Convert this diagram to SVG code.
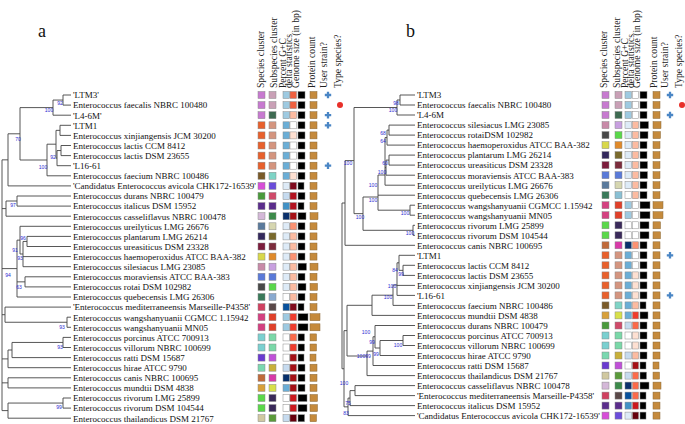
<svg xmlns="http://www.w3.org/2000/svg" width="685" height="424" viewBox="0 0 685 424">
<style>
.nm{font-family:"Liberation Serif","Times New Roman",serif;font-size:9px;fill:#111}
.hd{font-family:"Liberation Serif","Times New Roman",serif;font-size:9.6px;fill:#222}
.pl{font-family:"Liberation Serif","Times New Roman",serif;font-size:18px;fill:#111}
.bs{font-family:"Liberation Sans",Arial,sans-serif;font-size:5px;fill:#2b2bd0;text-anchor:middle}
.sq{stroke:#8a8a8a;stroke-width:0.5}
.gn{fill:#000;stroke:#8a8a8a;stroke-width:0.5}
.pc{fill:#c58a3c;stroke:#8a6a3a;stroke-width:0.5}
.br{fill:none;stroke:#444;stroke-width:0.9}
</style>
<defs>
<path id="cross" d="M-3.2,0H3.2M0,-3.2V3.2" stroke="#4a86c5" stroke-width="2.3" fill="none"/>
</defs>
<rect width="685" height="424" fill="#fff"/>
<text class="pl" x="38" y="37">a</text>
<text class="pl" x="406" y="37">b</text>
<g id="header-a">
<text class="hd" transform="translate(264,88) rotate(-90)">Species cluster</text>
<text class="hd" transform="translate(277,88) rotate(-90)">Subspecies cluster</text>
<text class="hd" transform="translate(286,88) rotate(-90)">Percent G+C</text>
<text class="hd" transform="translate(292,88) rotate(-90)">delta statistics</text>
<text class="hd" transform="translate(299,88) rotate(-90)">Genome size (in bp)</text>
<text class="hd" transform="translate(315,88) rotate(-90)">Protein count</text>
<text class="hd" transform="translate(327,88) rotate(-90)">User strain?</text>
<text class="hd" transform="translate(341,88) rotate(-90)">Type species?</text>
</g>
<g id="header-b">
<text class="hd" transform="translate(607,88) rotate(-90)">Species cluster</text>
<text class="hd" transform="translate(620,88) rotate(-90)">Subspecies cluster</text>
<text class="hd" transform="translate(628,88) rotate(-90)">Percent G+C</text>
<text class="hd" transform="translate(634,88) rotate(-90)">delta statistics</text>
<text class="hd" transform="translate(640,88) rotate(-90)">Genome size (in bp)</text>
<text class="hd" transform="translate(657,88) rotate(-90)">Protein count</text>
<text class="hd" transform="translate(668,88) rotate(-90)">User strain?</text>
<text class="hd" transform="translate(682,88) rotate(-90)">Type species?</text>
</g>
<g id="connectors">
<path class="br" d="M63,95H71M63,105.1H71M53,115.2H71M60,125.3H71M60,135.4H71M61,145.5H71M61,155.6H71M57,165.7H71M47,175.8H71M8,185.9H71M17,196H71M17,206.1H71M6,216.2H71M20,226.3H71M27,236.4H71M27,246.5H71M23,256.6H71M23,266.7H71M25,276.8H71M25,286.9H71M17,297H71M5,307.1H71M67,317.2H71M67,327.3H71M63,337.4H71M63,347.5H71M12,357.6H71M8,367.7H71M8,377.8H71M8,387.9H71M63,398H71M63,408.1H71M8,418.2H71"/>
<path class="br" d="M53,100.05H63M20,107.6H53M56,130.35H60M57,150.55H61M56,158.1H57M47,144.2H56M20,160H47M8,133.8H20M2,159.85H8M6,201H17M2,208.6H6M23,241.45H27M20,254H23M17,240.15H20M17,281.85H25M2,268.6H17M5,322.25H67M2,314.7H5M12,342.45H63M8,350H12M2,358.9H8M2,382.85H8M8,403.05H63M2,410.6H8"/>
<path class="br" d="M63,95V105.1M53,100.05V115.2M60,125.3V135.4M61,145.5V155.6M57,150.55V165.7M56,130.35V158.1M47,144.2V175.8M20,107.6V160M8,133.8V185.9M17,196V206.1M6,201V216.2M27,236.4V246.5M23,241.45V266.7M20,226.3V254M25,276.8V286.9M17,240.15V297M5,307.1V322.25M67,317.2V327.3M63,337.4V347.5M12,342.45V357.6M8,350V367.7M8,377.8V387.9M63,398V408.1M8,403.05V418.2M2,159.85V410.6"/>
<path class="br" d="M400,95H415M400,105H415M397,115H415M389,125.1H415M389,135.1H415M387,145.1H415M389,155.1H415M389,165.1H415M386,175.2H415M385,185.2H415M378,195.2H415M410,205.2H415M410,215.2H415M413,225.3H415M413,235.3H415M345,245.3H415M399,255.3H415M403,265.3H415M403,275.4H415M397,285.4H415M397,295.4H415M393,305.4H415M372,315.4H415M375,325.5H415M403,335.5H415M403,345.5H415M380,355.5H415M373,365.5H415M367,375.6H415M355,385.6H415M355,395.6H415M350,405.6H415M348,415.6H415"/>
<path class="br" d="M397,100H400M354,107.5H397M387,130.1H389M385,137.6H387M386,160.1H389M385,167.65H386M378,175H385M363,197H378M378,210.2H410M363,230.3H413M354,213.65H363M345,160.6H354M342,203H345M399,270.35H403M397,262.8H399M393,285H397M372,295.2H393M347,305.3H372M380,340.5H403M375,348H380M373,336.75H375M367,351.1H373M347,356H367M350,390.6H355M348,398.1H350M344,406.85H348M344,330.65H347M342,368.75H344"/>
<path class="br" d="M400,95V105M397,100V115M389,125.1V135.1M387,130.1V145.1M389,155.1V165.1M386,160.1V175.2M385,137.6V185.2M378,175V210.2M410,205.2V215.2M413,225.3V235.3M363,197V230.3M354,107.5V213.65M345,160.6V245.3M403,265.3V275.4M399,255.3V270.35M397,262.8V295.4M393,285V305.4M372,295.2V315.4M403,335.5V345.5M380,340.5V355.5M375,325.5V348M373,336.75V365.5M367,351.1V375.6M347,305.3V356M355,385.6V395.6M350,390.6V405.6M348,398.1V415.6M344,330.65V406.85M342,203V368.75"/>
</g>
<g id="support-a">
<text class="bs" x="60" y="104.5">92</text>
<text class="bs" x="49" y="111.8">100</text>
<text class="bs" x="18" y="140.8">70</text>
<text class="bs" x="53" y="158.5">92</text>
<text class="bs" x="43" y="169">100</text>
<text class="bs" x="13" y="206.8">97</text>
<text class="bs" x="23" y="240">96</text>
<text class="bs" x="15" y="251.8">91</text>
<text class="bs" x="20" y="260">93</text>
<text class="bs" x="8" y="276.8">94</text>
<text class="bs" x="19" y="288.5">63</text>
<text class="bs" x="62" y="328.5">93</text>
<text class="bs" x="60" y="348.5">93</text>
<text class="bs" x="59" y="409">99</text>
</g>
<g id="support-b">
<text class="bs" x="396" y="104.5">98</text>
<text class="bs" x="393" y="111.8">100</text>
<text class="bs" x="348" y="165">100</text>
<text class="bs" x="383" y="134.5">68</text>
<text class="bs" x="383" y="142.8">64</text>
<text class="bs" x="385" y="165">60</text>
<text class="bs" x="382" y="173.5">100</text>
<text class="bs" x="373" y="186.8">100</text>
<text class="bs" x="373" y="201.8">100</text>
<text class="bs" x="405" y="215">100</text>
<text class="bs" x="360" y="218.5">100</text>
<text class="bs" x="410" y="235">100</text>
<text class="bs" x="395" y="271.8">84</text>
<text class="bs" x="401" y="276">99</text>
<text class="bs" x="392" y="287.8">100</text>
<text class="bs" x="388" y="299">100</text>
<text class="bs" x="366" y="334">100</text>
<text class="bs" x="372" y="343.5">99</text>
<text class="bs" x="398" y="346.8">100</text>
<text class="bs" x="376" y="356">99</text>
<text class="bs" x="361" y="357.8">100</text>
<text class="bs" x="368" y="357.8">99</text>
<text class="bs" x="344" y="385">100</text>
<text class="bs" x="348" y="405">75</text>
<text class="bs" x="346" y="415">83</text>
</g>
<g id="a-r1"><text class="nm" x="73" y="98.3">'LTM3'</text><rect class="sq" x="258" y="91.5" width="7" height="7" fill="#c77ad0"/><rect class="sq" x="269" y="91.5" width="7" height="7" fill="#c9a0b6"/><rect class="sq" x="283" y="91.5" width="6.5" height="7" fill="#9ecae1"/><rect class="sq" x="290" y="91.5" width="6.5" height="7" fill="#f0603f"/><rect class="gn" x="298" y="91.5" width="7" height="7"/><rect class="pc" x="310" y="91.5" width="7" height="7"/><use href="#cross" x="328" y="95"/></g>
<g id="a-r2"><text class="nm" x="73" y="108.4">Enterococcus faecalis NBRC 100480</text><rect class="sq" x="258" y="101.6" width="7" height="7" fill="#c77ad0"/><rect class="sq" x="269" y="101.6" width="7" height="7" fill="#c9a0b6"/><rect class="sq" x="283" y="101.6" width="6.5" height="7" fill="#9ecae1"/><rect class="sq" x="290" y="101.6" width="6.5" height="7" fill="#f0603f"/><rect class="gn" x="298" y="101.6" width="7" height="7"/><rect class="pc" x="310" y="101.6" width="7" height="7"/><circle cx="340" cy="105.1" r="3" fill="#e8302a"/></g>
<g id="a-r3"><text class="nm" x="73" y="118.5">'L4-6M'</text><rect class="sq" x="258" y="111.7" width="7" height="7" fill="#c77ad0"/><rect class="sq" x="269" y="111.7" width="7" height="7" fill="#3e6b52"/><rect class="sq" x="283" y="111.7" width="6.5" height="7" fill="#9ecae1"/><rect class="sq" x="290" y="111.7" width="6.5" height="7" fill="#fcbba1"/><rect class="gn" x="298" y="111.7" width="7" height="7"/><rect class="pc" x="310" y="111.7" width="7" height="7"/><use href="#cross" x="328" y="115.2"/></g>
<g id="a-r4"><text class="nm" x="73" y="128.6">'LTM1</text><rect class="sq" x="258" y="121.8" width="7" height="7" fill="#e8602c"/><rect class="sq" x="269" y="121.8" width="7" height="7" fill="#d4957f"/><rect class="sq" x="283" y="121.8" width="6.5" height="7" fill="#6baed6"/><rect class="sq" x="290" y="121.8" width="6.5" height="7" fill="#ffffff"/><rect class="gn" x="298" y="121.8" width="7" height="7"/><rect class="pc" x="310" y="121.8" width="7" height="7"/><use href="#cross" x="328" y="125.3"/></g>
<g id="a-r5"><text class="nm" x="73" y="138.7">Enterococcus xinjiangensis JCM 30200</text><rect class="sq" x="258" y="131.9" width="7" height="7" fill="#e8602c"/><rect class="sq" x="269" y="131.9" width="7" height="7" fill="#d4957f"/><rect class="sq" x="283" y="131.9" width="6.5" height="7" fill="#6baed6"/><rect class="sq" x="290" y="131.9" width="6.5" height="7" fill="#fee0d2"/><rect class="gn" x="298" y="131.9" width="7" height="7"/><rect class="pc" x="310" y="131.9" width="7" height="7"/></g>
<g id="a-r6"><text class="nm" x="73" y="148.8">Enterococcus lactis CCM 8412</text><rect class="sq" x="258" y="142" width="7" height="7" fill="#e8602c"/><rect class="sq" x="269" y="142" width="7" height="7" fill="#d4957f"/><rect class="sq" x="283" y="142" width="6.5" height="7" fill="#6baed6"/><rect class="sq" x="290" y="142" width="6.5" height="7" fill="#ffffff"/><rect class="gn" x="298" y="142" width="7" height="7"/><rect class="pc" x="310" y="142" width="7" height="7"/></g>
<g id="a-r7"><text class="nm" x="73" y="158.9">Enterococcus lactis DSM 23655</text><rect class="sq" x="258" y="152.1" width="7" height="7" fill="#e8602c"/><rect class="sq" x="269" y="152.1" width="7" height="7" fill="#d4957f"/><rect class="sq" x="283" y="152.1" width="6.5" height="7" fill="#6baed6"/><rect class="sq" x="290" y="152.1" width="6.5" height="7" fill="#ffffff"/><rect class="gn" x="298" y="152.1" width="7" height="7"/><rect class="pc" x="310" y="152.1" width="7" height="7"/></g>
<g id="a-r8"><text class="nm" x="73" y="169">'L16-61</text><rect class="sq" x="258" y="162.2" width="7" height="7" fill="#e8602c"/><rect class="sq" x="269" y="162.2" width="7" height="7" fill="#d4957f"/><rect class="sq" x="283" y="162.2" width="6.5" height="7" fill="#6baed6"/><rect class="sq" x="290" y="162.2" width="6.5" height="7" fill="#ffffff"/><rect class="gn" x="298" y="162.2" width="7" height="7"/><rect class="pc" x="310" y="162.2" width="7" height="7"/><use href="#cross" x="328" y="165.7"/></g>
<g id="a-r9"><text class="nm" x="73" y="179.1">Enterococcus faecium NBRC 100486</text><rect class="sq" x="258" y="172.3" width="7" height="7" fill="#7a5a28"/><rect class="sq" x="269" y="172.3" width="7" height="7" fill="#7fd4c6"/><rect class="sq" x="283" y="172.3" width="6.5" height="7" fill="#6baed6"/><rect class="sq" x="290" y="172.3" width="6.5" height="7" fill="#fee0d2"/><rect class="gn" x="298" y="172.3" width="7" height="7"/><rect class="pc" x="310" y="172.3" width="7" height="7"/></g>
<g id="a-r10"><text class="nm" x="73" y="189.2">'Candidatus Enterococcus avicola CHK172-16539'</text><rect class="sq" x="258" y="182.4" width="7" height="7" fill="#d74ed8"/><rect class="sq" x="269" y="182.4" width="7" height="7" fill="#6b4ddb"/><rect class="sq" x="283" y="182.4" width="6.5" height="7" fill="#deebf7"/><rect class="sq" x="290" y="182.4" width="6.5" height="7" fill="#7f0a1e"/><rect class="gn" x="298" y="182.4" width="6" height="7"/><rect class="pc" x="310" y="182.4" width="7" height="7"/></g>
<g id="a-r11"><text class="nm" x="73" y="199.3">Enterococcus durans NBRC 100479</text><rect class="sq" x="258" y="192.5" width="7" height="7" fill="#4a9a3c"/><rect class="sq" x="269" y="192.5" width="7" height="7" fill="#d04a6a"/><rect class="sq" x="283" y="192.5" width="6.5" height="7" fill="#c6dbef"/><rect class="sq" x="290" y="192.5" width="6.5" height="7" fill="#b3121f"/><rect class="gn" x="298" y="192.5" width="7" height="7"/><rect class="pc" x="310" y="192.5" width="7" height="7"/></g>
<g id="a-r12"><text class="nm" x="73" y="209.4">Enterococcus italicus DSM 15952</text><rect class="sq" x="258" y="202.6" width="7" height="7" fill="#5b2d8c"/><rect class="sq" x="269" y="202.6" width="7" height="7" fill="#5b2d8c"/><rect class="sq" x="283" y="202.6" width="6.5" height="7" fill="#4292c6"/><rect class="sq" x="290" y="202.6" width="6.5" height="7" fill="#b3121f"/><rect class="gn" x="298" y="202.6" width="6" height="7"/><rect class="pc" x="310" y="202.6" width="7" height="7"/></g>
<g id="a-r13"><text class="nm" x="73" y="219.5">Enterococcus casseliflavus NBRC 100478</text><rect class="sq" x="258" y="212.7" width="7" height="7" fill="#d4b8d8"/><rect class="sq" x="269" y="212.7" width="7" height="7" fill="#3c8a4a"/><rect class="sq" x="283" y="212.7" width="6.5" height="7" fill="#0b306b"/><rect class="sq" x="290" y="212.7" width="6.5" height="7" fill="#a50f15"/><rect class="gn" x="298" y="212.7" width="8" height="7"/><rect class="pc" x="310" y="212.7" width="8" height="7"/></g>
<g id="a-r14"><text class="nm" x="73" y="229.6">Enterococcus ureilyticus LMG 26676</text><rect class="sq" x="258" y="222.8" width="7" height="7" fill="#5a7a9c"/><rect class="sq" x="269" y="222.8" width="7" height="7" fill="#d6d6b0"/><rect class="sq" x="283" y="222.8" width="6.5" height="7" fill="#deebf7"/><rect class="sq" x="290" y="222.8" width="6.5" height="7" fill="#fc9272"/><rect class="gn" x="298" y="222.8" width="7" height="7"/><rect class="pc" x="310" y="222.8" width="7" height="7"/></g>
<g id="a-r15"><text class="nm" x="73" y="239.7">Enterococcus plantarum LMG 26214</text><rect class="sq" x="258" y="232.9" width="7" height="7" fill="#33285c"/><rect class="sq" x="269" y="232.9" width="7" height="7" fill="#7a6a2c"/><rect class="sq" x="283" y="232.9" width="6.5" height="7" fill="#deebf7"/><rect class="sq" x="290" y="232.9" width="6.5" height="7" fill="#fcbba1"/><rect class="gn" x="298" y="232.9" width="7" height="7"/><rect class="pc" x="310" y="232.9" width="7" height="7"/></g>
<g id="a-r16"><text class="nm" x="73" y="249.8">Enterococcus ureasiticus DSM 23328</text><rect class="sq" x="258" y="243" width="7" height="7" fill="#7c1c3c"/><rect class="sq" x="269" y="243" width="7" height="7" fill="#7c2c3c"/><rect class="sq" x="283" y="243" width="6.5" height="7" fill="#deebf7"/><rect class="sq" x="290" y="243" width="6.5" height="7" fill="#fcbba1"/><rect class="gn" x="298" y="243" width="7" height="7"/><rect class="pc" x="310" y="243" width="7" height="7"/></g>
<g id="a-r17"><text class="nm" x="73" y="259.9">Enterococcus haemoperoxidus ATCC BAA-382</text><rect class="sq" x="258" y="253.1" width="7" height="7" fill="#d8d84a"/><rect class="sq" x="269" y="253.1" width="7" height="7" fill="#e08a2a"/><rect class="sq" x="283" y="253.1" width="6.5" height="7" fill="#deebf7"/><rect class="sq" x="290" y="253.1" width="6.5" height="7" fill="#fc9272"/><rect class="gn" x="298" y="253.1" width="7" height="7"/><rect class="pc" x="310" y="253.1" width="7" height="7"/></g>
<g id="a-r18"><text class="nm" x="73" y="270">Enterococcus silesiacus LMG 23085</text><rect class="sq" x="258" y="263.2" width="7" height="7" fill="#c88aa8"/><rect class="sq" x="269" y="263.2" width="7" height="7" fill="#c8a0e0"/><rect class="sq" x="283" y="263.2" width="6.5" height="7" fill="#deebf7"/><rect class="sq" x="290" y="263.2" width="6.5" height="7" fill="#fcbba1"/><rect class="gn" x="298" y="263.2" width="8.5" height="7"/><rect class="pc" x="310" y="263.2" width="8" height="7"/></g>
<g id="a-r19"><text class="nm" x="73" y="280.1">Enterococcus moraviensis ATCC BAA-383</text><rect class="sq" x="258" y="273.3" width="7" height="7" fill="#5a7ad8"/><rect class="sq" x="269" y="273.3" width="7" height="7" fill="#5a7ad8"/><rect class="sq" x="283" y="273.3" width="6.5" height="7" fill="#deebf7"/><rect class="sq" x="290" y="273.3" width="6.5" height="7" fill="#fcbba1"/><rect class="gn" x="298" y="273.3" width="7" height="7"/><rect class="pc" x="310" y="273.3" width="7" height="7"/></g>
<g id="a-r20"><text class="nm" x="73" y="290.2">Enterococcus rotai DSM 102982</text><rect class="sq" x="258" y="283.4" width="7" height="7" fill="#484848"/><rect class="sq" x="269" y="283.4" width="7" height="7" fill="#5ad84a"/><rect class="sq" x="283" y="283.4" width="6.5" height="7" fill="#deebf7"/><rect class="sq" x="290" y="283.4" width="6.5" height="7" fill="#fcbba1"/><rect class="gn" x="298" y="283.4" width="8" height="7"/><rect class="pc" x="310" y="283.4" width="7.5" height="7"/></g>
<g id="a-r21"><text class="nm" x="73" y="300.3">Enterococcus quebecensis LMG 26306</text><rect class="sq" x="258" y="293.5" width="7" height="7" fill="#3a7a5a"/><rect class="sq" x="269" y="293.5" width="7" height="7" fill="#8aaad0"/><rect class="sq" x="283" y="293.5" width="6.5" height="7" fill="#ffffff"/><rect class="sq" x="290" y="293.5" width="6.5" height="7" fill="#fcbba1"/><rect class="gn" x="298" y="293.5" width="7" height="7"/><rect class="pc" x="310" y="293.5" width="7" height="7"/></g>
<g id="a-r22"><text class="nm" x="73" y="310.4">'Enterococcus mediterraneensis Marseille-P4358'</text><rect class="sq" x="258" y="303.6" width="7" height="7" fill="#d04060"/><rect class="sq" x="269" y="303.6" width="7" height="7" fill="#5a4848"/><rect class="sq" x="283" y="303.6" width="6.5" height="7" fill="#08519c"/><rect class="sq" x="290" y="303.6" width="6.5" height="7" fill="#800a1c"/><rect class="gn" x="298" y="303.6" width="6" height="7"/><rect class="pc" x="310" y="303.6" width="7" height="7"/></g>
<g id="a-r23"><text class="nm" x="73" y="320.5">Enterococcus wangshanyuanii CGMCC 1.15942</text><rect class="sq" x="258" y="313.7" width="7" height="7" fill="#d44080"/><rect class="sq" x="269" y="313.7" width="7" height="7" fill="#e0402a"/><rect class="sq" x="283" y="313.7" width="6.5" height="7" fill="#9ecae1"/><rect class="sq" x="290" y="313.7" width="6.5" height="7" fill="#ef3b2c"/><rect class="gn" x="298" y="313.7" width="10" height="7"/><rect class="pc" x="310" y="313.7" width="10" height="7"/></g>
<g id="a-r24"><text class="nm" x="73" y="330.6">Enterococcus wangshanyuanii MN05</text><rect class="sq" x="258" y="323.8" width="7" height="7" fill="#d44080"/><rect class="sq" x="269" y="323.8" width="7" height="7" fill="#e0402a"/><rect class="sq" x="283" y="323.8" width="6.5" height="7" fill="#9ecae1"/><rect class="sq" x="290" y="323.8" width="6.5" height="7" fill="#ef3b2c"/><rect class="gn" x="298" y="323.8" width="10" height="7"/><rect class="pc" x="310" y="323.8" width="10" height="7"/></g>
<g id="a-r25"><text class="nm" x="73" y="340.7">Enterococcus porcinus ATCC 700913</text><rect class="sq" x="258" y="333.9" width="7" height="7" fill="#7ad0d0"/><rect class="sq" x="269" y="333.9" width="7" height="7" fill="#7ad8a8"/><rect class="sq" x="283" y="333.9" width="6.5" height="7" fill="#ffffff"/><rect class="sq" x="290" y="333.9" width="6.5" height="7" fill="#fb6a4a"/><rect class="gn" x="298" y="333.9" width="6.5" height="7"/><rect class="pc" x="310" y="333.9" width="6.5" height="7"/></g>
<g id="a-r26"><text class="nm" x="73" y="350.8">Enterococcus villorum NBRC 100699</text><rect class="sq" x="258" y="344" width="7" height="7" fill="#7ad0d0"/><rect class="sq" x="269" y="344" width="7" height="7" fill="#7ad8a8"/><rect class="sq" x="283" y="344" width="6.5" height="7" fill="#ffffff"/><rect class="sq" x="290" y="344" width="6.5" height="7" fill="#ef3b2c"/><rect class="gn" x="298" y="344" width="6.5" height="7"/><rect class="pc" x="310" y="344" width="6.5" height="7"/></g>
<g id="a-r27"><text class="nm" x="73" y="360.9">Enterococcus ratti DSM 15687</text><rect class="sq" x="258" y="354.1" width="7" height="7" fill="#6a3ad0"/><rect class="sq" x="269" y="354.1" width="7" height="7" fill="#c050d8"/><rect class="sq" x="283" y="354.1" width="6.5" height="7" fill="#ffffff"/><rect class="sq" x="290" y="354.1" width="6.5" height="7" fill="#a50f15"/><rect class="gn" x="298" y="354.1" width="6" height="7"/><rect class="pc" x="310" y="354.1" width="6" height="7"/></g>
<g id="a-r28"><text class="nm" x="73" y="371">Enterococcus hirae ATCC 9790</text><rect class="sq" x="258" y="364.2" width="7" height="7" fill="#7ad8b0"/><rect class="sq" x="269" y="364.2" width="7" height="7" fill="#c8b03a"/><rect class="sq" x="283" y="364.2" width="6.5" height="7" fill="#c6dbef"/><rect class="sq" x="290" y="364.2" width="6.5" height="7" fill="#a50f15"/><rect class="gn" x="298" y="364.2" width="7" height="7"/><rect class="pc" x="310" y="364.2" width="7" height="7"/></g>
<g id="a-r29"><text class="nm" x="73" y="381.1">Enterococcus canis NBRC 100695</text><rect class="sq" x="258" y="374.3" width="7" height="7" fill="#c06a3a"/><rect class="sq" x="269" y="374.3" width="7" height="7" fill="#d83aa8"/><rect class="sq" x="283" y="374.3" width="6.5" height="7" fill="#08306b"/><rect class="sq" x="290" y="374.3" width="6.5" height="7" fill="#a50f15"/><rect class="gn" x="298" y="374.3" width="7" height="7"/><rect class="pc" x="310" y="374.3" width="7" height="7"/></g>
<g id="a-r30"><text class="nm" x="73" y="391.2">Enterococcus mundtii DSM 4838</text><rect class="sq" x="258" y="384.4" width="7" height="7" fill="#d8a03a"/><rect class="sq" x="269" y="384.4" width="7" height="7" fill="#d8e04a"/><rect class="sq" x="283" y="384.4" width="6.5" height="7" fill="#6baed6"/><rect class="sq" x="290" y="384.4" width="6.5" height="7" fill="#a50f15"/><rect class="gn" x="298" y="384.4" width="7" height="7"/><rect class="pc" x="310" y="384.4" width="7" height="7"/></g>
<g id="a-r31"><text class="nm" x="73" y="401.3">Enterococcus rivorum LMG 25899</text><rect class="sq" x="258" y="394.5" width="7" height="7" fill="#5ad84a"/><rect class="sq" x="269" y="394.5" width="7" height="7" fill="#3a2a5a"/><rect class="sq" x="283" y="394.5" width="6.5" height="7" fill="#ffffff"/><rect class="sq" x="290" y="394.5" width="6.5" height="7" fill="#cb181d"/><rect class="gn" x="298" y="394.5" width="9" height="7"/><rect class="pc" x="310" y="394.5" width="7.5" height="7"/></g>
<g id="a-r32"><text class="nm" x="73" y="411.4">Enterococcus rivorum DSM 104544</text><rect class="sq" x="258" y="404.6" width="7" height="7" fill="#5ad84a"/><rect class="sq" x="269" y="404.6" width="7" height="7" fill="#3a2a5a"/><rect class="sq" x="283" y="404.6" width="6.5" height="7" fill="#ffffff"/><rect class="sq" x="290" y="404.6" width="6.5" height="7" fill="#cb181d"/><rect class="gn" x="298" y="404.6" width="9" height="7"/><rect class="pc" x="310" y="404.6" width="7.5" height="7"/></g>
<g id="a-r33"><text class="nm" x="73" y="421.5">Enterococcus thailandicus DSM 21767</text><rect class="sq" x="258" y="414.7" width="7" height="7" fill="#d0c8a0"/><rect class="sq" x="269" y="414.7" width="7" height="7" fill="#5a9a3a"/><rect class="sq" x="283" y="414.7" width="6.5" height="7" fill="#c6dbef"/><rect class="sq" x="290" y="414.7" width="6.5" height="7" fill="#67000d"/><rect class="gn" x="298" y="414.7" width="6.5" height="7"/><rect class="pc" x="310" y="414.7" width="6.5" height="7"/></g>
<g id="b-r1"><text class="nm" x="417" y="98.3">'LTM3</text><rect class="sq" x="602" y="91.5" width="7" height="7" fill="#c77ad0"/><rect class="sq" x="615" y="91.5" width="7" height="7" fill="#c9a0b6"/><rect class="sq" x="625" y="91.5" width="6.5" height="7" fill="#9ecae1"/><rect class="sq" x="632.5" y="91.5" width="6" height="7" fill="#ffffff"/><rect class="gn" x="640" y="91.5" width="7" height="7"/><rect class="pc" x="653" y="91.5" width="7" height="7"/><use href="#cross" x="670" y="95"/></g>
<g id="b-r2"><text class="nm" x="417" y="108.3">Enterococcus faecalis NBRC 100480</text><rect class="sq" x="602" y="101.5" width="7" height="7" fill="#c77ad0"/><rect class="sq" x="615" y="101.5" width="7" height="7" fill="#c9a0b6"/><rect class="sq" x="625" y="101.5" width="6.5" height="7" fill="#9ecae1"/><rect class="sq" x="632.5" y="101.5" width="6" height="7" fill="#ffffff"/><rect class="gn" x="640" y="101.5" width="7" height="7"/><rect class="pc" x="653" y="101.5" width="7" height="7"/><circle cx="682" cy="105" r="3" fill="#e8302a"/></g>
<g id="b-r3"><text class="nm" x="417" y="118.3">'L4-6M</text><rect class="sq" x="602" y="111.5" width="7" height="7" fill="#c77ad0"/><rect class="sq" x="615" y="111.5" width="7" height="7" fill="#3e6b52"/><rect class="sq" x="625" y="111.5" width="6.5" height="7" fill="#9ecae1"/><rect class="sq" x="632.5" y="111.5" width="6" height="7" fill="#ffffff"/><rect class="gn" x="640" y="111.5" width="7" height="7"/><rect class="pc" x="653" y="111.5" width="7" height="7"/><use href="#cross" x="670" y="115"/></g>
<g id="b-r4"><text class="nm" x="417" y="128.4">Enterococcus silesiacus LMG 23085</text><rect class="sq" x="602" y="121.6" width="7" height="7" fill="#c88aa8"/><rect class="sq" x="615" y="121.6" width="7" height="7" fill="#c8a0e0"/><rect class="sq" x="625" y="121.6" width="6.5" height="7" fill="#deebf7"/><rect class="sq" x="632.5" y="121.6" width="6" height="7" fill="#fcbba1"/><rect class="gn" x="640" y="121.6" width="8.5" height="7"/><rect class="pc" x="653" y="121.6" width="8" height="7"/></g>
<g id="b-r5"><text class="nm" x="417" y="138.4">Enterococcus rotaiDSM 102982</text><rect class="sq" x="602" y="131.6" width="7" height="7" fill="#484848"/><rect class="sq" x="615" y="131.6" width="7" height="7" fill="#5ad84a"/><rect class="sq" x="625" y="131.6" width="6.5" height="7" fill="#deebf7"/><rect class="sq" x="632.5" y="131.6" width="6" height="7" fill="#fcbba1"/><rect class="gn" x="640" y="131.6" width="8" height="7"/><rect class="pc" x="653" y="131.6" width="7.5" height="7"/></g>
<g id="b-r6"><text class="nm" x="417" y="148.4">Enterococcus haemoperoxidus ATCC BAA-382</text><rect class="sq" x="602" y="141.6" width="7" height="7" fill="#d8d84a"/><rect class="sq" x="615" y="141.6" width="7" height="7" fill="#e08a2a"/><rect class="sq" x="625" y="141.6" width="6.5" height="7" fill="#deebf7"/><rect class="sq" x="632.5" y="141.6" width="6" height="7" fill="#fcbba1"/><rect class="gn" x="640" y="141.6" width="7" height="7"/><rect class="pc" x="653" y="141.6" width="7" height="7"/></g>
<g id="b-r7"><text class="nm" x="417" y="158.4">Enterococcus plantarum LMG 26214</text><rect class="sq" x="602" y="151.6" width="7" height="7" fill="#33285c"/><rect class="sq" x="615" y="151.6" width="7" height="7" fill="#7a6a2c"/><rect class="sq" x="625" y="151.6" width="6.5" height="7" fill="#deebf7"/><rect class="sq" x="632.5" y="151.6" width="6" height="7" fill="#fcbba1"/><rect class="gn" x="640" y="151.6" width="7" height="7"/><rect class="pc" x="653" y="151.6" width="7" height="7"/></g>
<g id="b-r8"><text class="nm" x="417" y="168.4">Enterococcus ureasiticus DSM 23328</text><rect class="sq" x="602" y="161.6" width="7" height="7" fill="#7c1c3c"/><rect class="sq" x="615" y="161.6" width="7" height="7" fill="#7c2c3c"/><rect class="sq" x="625" y="161.6" width="6.5" height="7" fill="#deebf7"/><rect class="sq" x="632.5" y="161.6" width="6" height="7" fill="#fcbba1"/><rect class="gn" x="640" y="161.6" width="7.5" height="7"/><rect class="pc" x="653" y="161.6" width="7" height="7"/></g>
<g id="b-r9"><text class="nm" x="417" y="178.5">Enterococcus moraviensis ATCC BAA-383</text><rect class="sq" x="602" y="171.7" width="7" height="7" fill="#5a7ad8"/><rect class="sq" x="615" y="171.7" width="7" height="7" fill="#5a7ad8"/><rect class="sq" x="625" y="171.7" width="6.5" height="7" fill="#deebf7"/><rect class="sq" x="632.5" y="171.7" width="6" height="7" fill="#fcbba1"/><rect class="gn" x="640" y="171.7" width="7.5" height="7"/><rect class="pc" x="653" y="171.7" width="7" height="7"/></g>
<g id="b-r10"><text class="nm" x="417" y="188.5">Enterococcus ureilyticus LMG 26676</text><rect class="sq" x="602" y="181.7" width="7" height="7" fill="#5a7a9c"/><rect class="sq" x="615" y="181.7" width="7" height="7" fill="#d6d6b0"/><rect class="sq" x="625" y="181.7" width="6.5" height="7" fill="#deebf7"/><rect class="sq" x="632.5" y="181.7" width="6" height="7" fill="#fcbba1"/><rect class="gn" x="640" y="181.7" width="7" height="7"/><rect class="pc" x="653" y="181.7" width="7" height="7"/></g>
<g id="b-r11"><text class="nm" x="417" y="198.5">Enterococcus quebecensis LMG 26306</text><rect class="sq" x="602" y="191.7" width="7" height="7" fill="#3a7a5a"/><rect class="sq" x="615" y="191.7" width="7" height="7" fill="#8ac0d4"/><rect class="sq" x="625" y="191.7" width="6.5" height="7" fill="#ffffff"/><rect class="sq" x="632.5" y="191.7" width="6" height="7" fill="#fcbba1"/><rect class="gn" x="640" y="191.7" width="7" height="7"/><rect class="pc" x="653" y="191.7" width="7" height="7"/></g>
<g id="b-r12"><text class="nm" x="417" y="208.5">Enterococcus wangshanyuanii CGMCC 1.15942</text><rect class="sq" x="602" y="201.7" width="7" height="7" fill="#d44080"/><rect class="sq" x="615" y="201.7" width="7" height="7" fill="#e0402a"/><rect class="sq" x="625" y="201.7" width="6.5" height="7" fill="#9ecae1"/><rect class="sq" x="632.5" y="201.7" width="6" height="7" fill="#ffffff"/><rect class="gn" x="640" y="201.7" width="10" height="7"/><rect class="pc" x="653" y="201.7" width="10" height="7"/></g>
<g id="b-r13"><text class="nm" x="417" y="218.5">Enterococcus wangshanyuanii MN05</text><rect class="sq" x="602" y="211.7" width="7" height="7" fill="#d44080"/><rect class="sq" x="615" y="211.7" width="7" height="7" fill="#e0402a"/><rect class="sq" x="625" y="211.7" width="6.5" height="7" fill="#9ecae1"/><rect class="sq" x="632.5" y="211.7" width="6" height="7" fill="#ffffff"/><rect class="gn" x="640" y="211.7" width="10" height="7"/><rect class="pc" x="653" y="211.7" width="10" height="7"/></g>
<g id="b-r14"><text class="nm" x="417" y="228.6">Enterococcus rivorum LMG 25899</text><rect class="sq" x="602" y="221.8" width="7" height="7" fill="#5ad84a"/><rect class="sq" x="615" y="221.8" width="7" height="7" fill="#3a2a5a"/><rect class="sq" x="625" y="221.8" width="6.5" height="7" fill="#ffffff"/><rect class="sq" x="632.5" y="221.8" width="6" height="7" fill="#ffffff"/><rect class="gn" x="640" y="221.8" width="9" height="7"/><rect class="pc" x="653" y="221.8" width="7.5" height="7"/></g>
<g id="b-r15"><text class="nm" x="417" y="238.6">Enterococcus rivorum DSM 104544</text><rect class="sq" x="602" y="231.8" width="7" height="7" fill="#5ad84a"/><rect class="sq" x="615" y="231.8" width="7" height="7" fill="#3a2a5a"/><rect class="sq" x="625" y="231.8" width="6.5" height="7" fill="#ffffff"/><rect class="sq" x="632.5" y="231.8" width="6" height="7" fill="#ffffff"/><rect class="gn" x="640" y="231.8" width="9" height="7"/><rect class="pc" x="653" y="231.8" width="7.5" height="7"/></g>
<g id="b-r16"><text class="nm" x="417" y="248.6">Enterococcus canis NBRC 100695</text><rect class="sq" x="602" y="241.8" width="7" height="7" fill="#c06a3a"/><rect class="sq" x="615" y="241.8" width="7" height="7" fill="#d83aa8"/><rect class="sq" x="625" y="241.8" width="6.5" height="7" fill="#08306b"/><rect class="sq" x="632.5" y="241.8" width="6" height="7" fill="#fc9272"/><rect class="gn" x="640" y="241.8" width="7" height="7"/><rect class="pc" x="653" y="241.8" width="7" height="7"/></g>
<g id="b-r17"><text class="nm" x="417" y="258.6">'LTM1</text><rect class="sq" x="602" y="251.8" width="7" height="7" fill="#e8602c"/><rect class="sq" x="615" y="251.8" width="7" height="7" fill="#d4957f"/><rect class="sq" x="625" y="251.8" width="6.5" height="7" fill="#6baed6"/><rect class="sq" x="632.5" y="251.8" width="6" height="7" fill="#ffffff"/><rect class="gn" x="640" y="251.8" width="7" height="7"/><rect class="pc" x="653" y="251.8" width="7" height="7"/><use href="#cross" x="670" y="255.3"/></g>
<g id="b-r18"><text class="nm" x="417" y="268.6">Enterococcus lactis CCM 8412</text><rect class="sq" x="602" y="261.8" width="7" height="7" fill="#e8602c"/><rect class="sq" x="615" y="261.8" width="7" height="7" fill="#d4957f"/><rect class="sq" x="625" y="261.8" width="6.5" height="7" fill="#6baed6"/><rect class="sq" x="632.5" y="261.8" width="6" height="7" fill="#ffffff"/><rect class="gn" x="640" y="261.8" width="7" height="7"/><rect class="pc" x="653" y="261.8" width="7" height="7"/></g>
<g id="b-r19"><text class="nm" x="417" y="278.7">Enterococcus lactis DSM 23655</text><rect class="sq" x="602" y="271.9" width="7" height="7" fill="#e8602c"/><rect class="sq" x="615" y="271.9" width="7" height="7" fill="#d4957f"/><rect class="sq" x="625" y="271.9" width="6.5" height="7" fill="#6baed6"/><rect class="sq" x="632.5" y="271.9" width="6" height="7" fill="#fee0d2"/><rect class="gn" x="640" y="271.9" width="7" height="7"/><rect class="pc" x="653" y="271.9" width="7" height="7"/></g>
<g id="b-r20"><text class="nm" x="417" y="288.7">Enterococcus xinjiangensis JCM 30200</text><rect class="sq" x="602" y="281.9" width="7" height="7" fill="#e8602c"/><rect class="sq" x="615" y="281.9" width="7" height="7" fill="#d4957f"/><rect class="sq" x="625" y="281.9" width="6.5" height="7" fill="#6baed6"/><rect class="sq" x="632.5" y="281.9" width="6" height="7" fill="#fee0d2"/><rect class="gn" x="640" y="281.9" width="7" height="7"/><rect class="pc" x="653" y="281.9" width="7" height="7"/></g>
<g id="b-r21"><text class="nm" x="417" y="298.7">'L16-61</text><rect class="sq" x="602" y="291.9" width="7" height="7" fill="#e8602c"/><rect class="sq" x="615" y="291.9" width="7" height="7" fill="#d4957f"/><rect class="sq" x="625" y="291.9" width="6.5" height="7" fill="#6baed6"/><rect class="sq" x="632.5" y="291.9" width="6" height="7" fill="#fee0d2"/><rect class="gn" x="640" y="291.9" width="7" height="7"/><rect class="pc" x="653" y="291.9" width="7" height="7"/><use href="#cross" x="670" y="295.4"/></g>
<g id="b-r22"><text class="nm" x="417" y="308.7">Enterococcus faecium NBRC 100486</text><rect class="sq" x="602" y="301.9" width="7" height="7" fill="#7a5a28"/><rect class="sq" x="615" y="301.9" width="7" height="7" fill="#7fd4c6"/><rect class="sq" x="625" y="301.9" width="6.5" height="7" fill="#6baed6"/><rect class="sq" x="632.5" y="301.9" width="6" height="7" fill="#fcbba1"/><rect class="gn" x="640" y="301.9" width="6" height="7"/><rect class="pc" x="653" y="301.9" width="7" height="7"/></g>
<g id="b-r23"><text class="nm" x="417" y="318.7">Enterococcus mundtii DSM 4838</text><rect class="sq" x="602" y="311.9" width="7" height="7" fill="#d8a03a"/><rect class="sq" x="615" y="311.9" width="7" height="7" fill="#d8e04a"/><rect class="sq" x="625" y="311.9" width="6.5" height="7" fill="#6baed6"/><rect class="sq" x="632.5" y="311.9" width="6" height="7" fill="#ef3b2c"/><rect class="gn" x="640" y="311.9" width="8" height="7"/><rect class="pc" x="653" y="311.9" width="7" height="7"/></g>
<g id="b-r24"><text class="nm" x="417" y="328.8">Enterococcus durans NBRC 100479</text><rect class="sq" x="602" y="322" width="7" height="7" fill="#4a9a3c"/><rect class="sq" x="615" y="322" width="7" height="7" fill="#d04a6a"/><rect class="sq" x="625" y="322" width="6.5" height="7" fill="#c6dbef"/><rect class="sq" x="632.5" y="322" width="6" height="7" fill="#fb6a4a"/><rect class="gn" x="640" y="322" width="7" height="7"/><rect class="pc" x="653" y="322" width="7" height="7"/></g>
<g id="b-r25"><text class="nm" x="417" y="338.8">Enterococcus porcinus ATCC 700913</text><rect class="sq" x="602" y="332" width="7" height="7" fill="#7ad0d0"/><rect class="sq" x="615" y="332" width="7" height="7" fill="#7ad8a8"/><rect class="sq" x="625" y="332" width="6.5" height="7" fill="#ffffff"/><rect class="sq" x="632.5" y="332" width="6" height="7" fill="#fee0d2"/><rect class="gn" x="640" y="332" width="7" height="7"/><rect class="pc" x="653" y="332" width="7" height="7"/></g>
<g id="b-r26"><text class="nm" x="417" y="348.8">Enterococcus villorum NBRC 100699</text><rect class="sq" x="602" y="342" width="7" height="7" fill="#7ad0d0"/><rect class="sq" x="615" y="342" width="7" height="7" fill="#7ad8a8"/><rect class="sq" x="625" y="342" width="6.5" height="7" fill="#ffffff"/><rect class="sq" x="632.5" y="342" width="6" height="7" fill="#fee0d2"/><rect class="gn" x="640" y="342" width="7" height="7"/><rect class="pc" x="653" y="342" width="7" height="7"/></g>
<g id="b-r27"><text class="nm" x="417" y="358.8">Enterococcus hirae ATCC 9790</text><rect class="sq" x="602" y="352" width="7" height="7" fill="#7ad8b0"/><rect class="sq" x="615" y="352" width="7" height="7" fill="#c8b03a"/><rect class="sq" x="625" y="352" width="6.5" height="7" fill="#c6dbef"/><rect class="sq" x="632.5" y="352" width="6" height="7" fill="#fcbba1"/><rect class="gn" x="640" y="352" width="7" height="7"/><rect class="pc" x="653" y="352" width="7" height="7"/></g>
<g id="b-r28"><text class="nm" x="417" y="368.8">Enterococcus ratti DSM 15687</text><rect class="sq" x="602" y="362" width="7" height="7" fill="#6a3ad0"/><rect class="sq" x="615" y="362" width="7" height="7" fill="#c050d8"/><rect class="sq" x="625" y="362" width="6.5" height="7" fill="#ffffff"/><rect class="sq" x="632.5" y="362" width="6" height="7" fill="#a50f15"/><rect class="gn" x="640" y="362" width="6" height="7"/><rect class="pc" x="653" y="362" width="6" height="7"/></g>
<g id="b-r29"><text class="nm" x="417" y="378.9">Enterococcus thailandicus DSM 21767</text><rect class="sq" x="602" y="372.1" width="7" height="7" fill="#d0c8a0"/><rect class="sq" x="615" y="372.1" width="7" height="7" fill="#5a9a3a"/><rect class="sq" x="625" y="372.1" width="6.5" height="7" fill="#c6dbef"/><rect class="sq" x="632.5" y="372.1" width="6" height="7" fill="#fb6a4a"/><rect class="gn" x="640" y="372.1" width="6.5" height="7"/><rect class="pc" x="653" y="372.1" width="6.5" height="7"/></g>
<g id="b-r30"><text class="nm" x="417" y="388.9">Enterococcus casseliflavus NBRC 100478</text><rect class="sq" x="602" y="382.1" width="7" height="7" fill="#d4b8d8"/><rect class="sq" x="615" y="382.1" width="7" height="7" fill="#3c8a4a"/><rect class="sq" x="625" y="382.1" width="6.5" height="7" fill="#0b306b"/><rect class="sq" x="632.5" y="382.1" width="6" height="7" fill="#fb6a4a"/><rect class="gn" x="640" y="382.1" width="9" height="7"/><rect class="pc" x="653" y="382.1" width="8" height="7"/></g>
<g id="b-r31"><text class="nm" x="417" y="398.9">'Enterococcus mediterraneensis Marseille-P4358'</text><rect class="sq" x="602" y="392.1" width="7" height="7" fill="#d04060"/><rect class="sq" x="615" y="392.1" width="7" height="7" fill="#5a4848"/><rect class="sq" x="625" y="392.1" width="6.5" height="7" fill="#08519c"/><rect class="sq" x="632.5" y="392.1" width="6" height="7" fill="#fb6a4a"/><rect class="gn" x="640" y="392.1" width="6" height="7"/><rect class="pc" x="653" y="392.1" width="7" height="7"/></g>
<g id="b-r32"><text class="nm" x="417" y="408.9">Enterococcus italicus DSM 15952</text><rect class="sq" x="602" y="402.1" width="7" height="7" fill="#5b2d8c"/><rect class="sq" x="615" y="402.1" width="7" height="7" fill="#5b2d8c"/><rect class="sq" x="625" y="402.1" width="6.5" height="7" fill="#4292c6"/><rect class="sq" x="632.5" y="402.1" width="6" height="7" fill="#cb181d"/><rect class="gn" x="640" y="402.1" width="6" height="7"/><rect class="pc" x="653" y="402.1" width="7" height="7"/></g>
<g id="b-r33"><text class="nm" x="417" y="418.9">'Candidatus Enterococcus avicola CHK172-16539'</text><rect class="sq" x="602" y="412.1" width="7" height="7" fill="#d74ed8"/><rect class="sq" x="615" y="412.1" width="7" height="7" fill="#6b4ddb"/><rect class="sq" x="625" y="412.1" width="6.5" height="7" fill="#deebf7"/><rect class="sq" x="632.5" y="412.1" width="6" height="7" fill="#67000d"/><rect class="gn" x="640" y="412.1" width="6" height="7"/><rect class="pc" x="653" y="412.1" width="7" height="7"/></g>
</svg>
